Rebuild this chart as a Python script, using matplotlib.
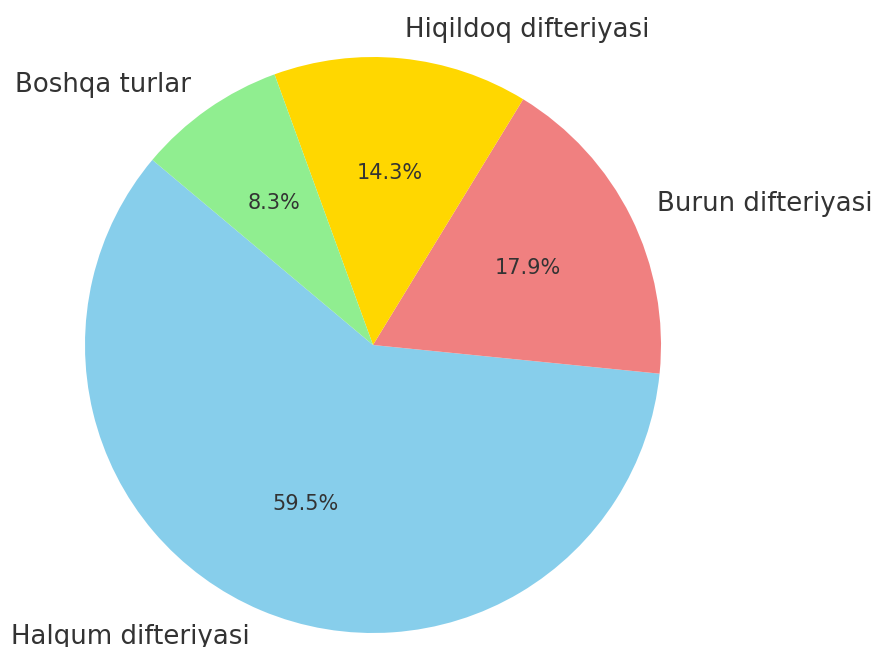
import matplotlib
matplotlib.use("Agg")
import matplotlib.pyplot as plt

labels = ["Halqum difteriyasi", "Burun difteriyasi", "Hiqildoq difteriyasi", "Boshqa turlar"]
counts = [50, 15, 12, 7]
colors = ["skyblue", "lightcoral", "gold", "lightgreen"]

fig = plt.figure(figsize=(8.75, 6.47), dpi=100)
ax = fig.add_axes([13/875, -58/647, 720/875, 720/647])
wedges, texts, autotexts = ax.pie(counts, labels=labels, colors=colors,
                                  autopct="%1.1f%%", startangle=140,
                                  textprops={"color": "#333333"})
for t in texts:
    t.set_fontsize(18.75)
for t in autotexts:
    t.set_fontsize(15)
ax.set_aspect("equal")
fig.savefig("out.png", dpi=100)
